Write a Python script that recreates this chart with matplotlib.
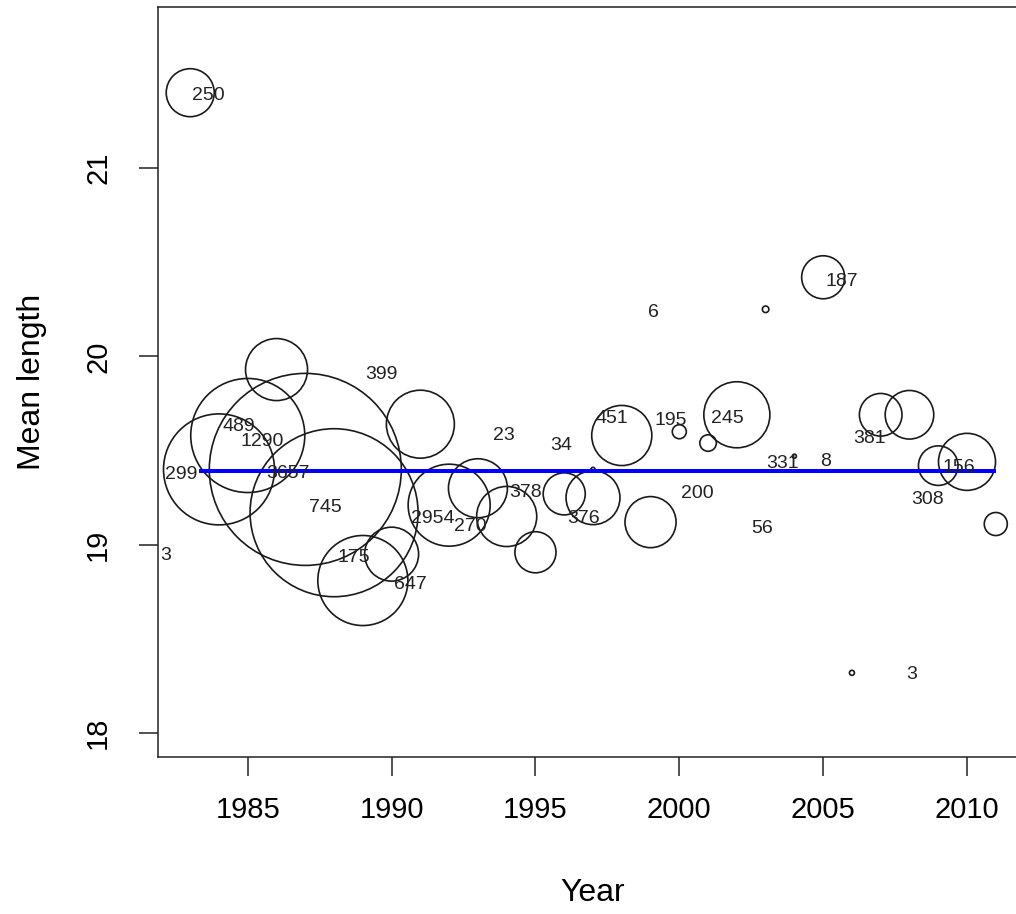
import matplotlib
matplotlib.use("Agg")
from matplotlib import pyplot as plt
from matplotlib import font_manager as fm
from matplotlib import transforms
import numpy as np

# circles: year, mean length, relative radius (largest = 1)
years = np.array([1983, 1984, 1985, 1986, 1987, 1988, 1989, 1990, 1991, 1992,
                  1993, 1994, 1995, 1996, 1997, 1997, 1998, 1999, 2000, 2001,
                  2002, 2003, 2004, 2005, 2006, 2007, 2008, 2009, 2010, 2011])
mean_len = np.array([21.40, 19.40, 19.58, 19.93, 19.40, 19.17, 18.81, 18.95, 19.64, 19.21,
                     19.30, 19.15, 18.96, 19.27, 19.25, 19.40, 19.58, 19.12, 19.60, 19.54,
                     19.69, 20.25, 19.47, 20.42, 18.32, 19.69, 19.69, 19.42, 19.44, 19.11])
rel_size = np.array([0.250, 0.578, 0.594, 0.323, 1.000, 0.875, 0.469, 0.281, 0.354, 0.427,
                     0.307, 0.313, 0.214, 0.219, 0.281, 0.021, 0.313, 0.266, 0.073, 0.086,
                     0.344, 0.034, 0.021, 0.224, 0.026, 0.222, 0.253, 0.206, 0.297, 0.120])

# sample size labels
lab_text = ["250", "299", "3", "489", "1290", "3657", "745", "399", "175", "647",
            "2954", "270", "378", "23", "34", "376", "6", "451", "195", "245",
            "200", "56", "331", "8", "187", "381", "156", "308", "3"]
lab_x = [1983.64, 1982.69, 1982.13, 1984.70, 1985.49, 1986.41, 1987.70, 1989.65, 1988.70, 1990.64,
         1991.42, 1992.72, 1994.66, 1993.89, 1995.90, 1996.67, 1999.11, 1997.65, 1999.70, 2001.68,
         2000.62, 2002.87, 2003.60, 2005.10, 2005.65, 2006.61, 2009.72, 2008.64, 2008.09]
lab_y = [21.397, 19.384, 18.951, 19.636, 19.561, 19.391, 19.207, 19.916, 18.945, 18.800,
         19.149, 19.105, 19.287, 19.588, 19.535, 19.152, 20.243, 19.680, 19.671, 19.680,
         19.281, 19.099, 19.441, 19.450, 20.409, 19.577, 19.420, 19.252, 18.320]

# overall mean line
line_x = [1983.3, 2011]
line_y = [19.39, 19.39]

try:
    fm.findfont("Liberation Sans Narrow", fallback_to_default=False)
    axis_font = "Liberation Sans Narrow"
    axis_size = 25
except Exception:
    axis_font = "Liberation Sans"
    axis_size = 21

fig = plt.figure(figsize=(10.16, 9.14), dpi=100)
ax = fig.add_axes([158 / 1016, 157 / 914, 870 / 1016, 750 / 914])

max_r_in = 0.96
diam_pt = 2 * rel_size * max_r_in * 72
ax.scatter(years, mean_len, s=diam_pt ** 2, facecolors="none", edgecolors="#1a1a1a",
           linewidths=1.2, zorder=2)
ax.plot(line_x, line_y, color="#0000ff", lw=2.9, solid_capstyle="butt", zorder=3)

# nudge labels down a touch so the digits sit where R put them
shift = transforms.ScaledTranslation(0, -2 / 100, fig.dpi_scale_trans)
for t, x, y in zip(lab_text, lab_x, lab_y):
    ax.text(x, y, t, ha="center", va="center", fontsize=14, color="#222222",
            family="Liberation Sans", zorder=4, transform=ax.transData + shift)

ax.set_xlim(1981.88, 2012.12)
ax.set_ylim(17.873, 21.855)
ax.set_xticks([1985, 1990, 1995, 2000, 2005, 2010])
ax.set_yticks([18, 19, 20, 21])
ax.set_xticklabels(["1985", "1990", "1995", "2000", "2005", "2010"],
                   family=axis_font, fontsize=axis_size)
ax.set_yticklabels(["18", "19", "20", "21"], family=axis_font, fontsize=axis_size,
                   rotation=90, va="center")
ax.tick_params(axis="both", length=14, width=1.1, color="#222222")
ax.tick_params(axis="x", pad=14)
ax.tick_params(axis="y", pad=19)
for s in ax.spines.values():
    s.set_linewidth(1.1)
    s.set_color("#222222")

ax.set_xlabel("Year", family=axis_font, fontsize=axis_size + 2, va="center")
ax.set_ylabel("Mean length", family=axis_font, fontsize=axis_size + 2, va="center")
ax.xaxis.set_label_coords(0.5, -0.181)
ax.yaxis.set_label_coords(-0.145, 0.5)

fig.savefig("out.png", dpi=100)
